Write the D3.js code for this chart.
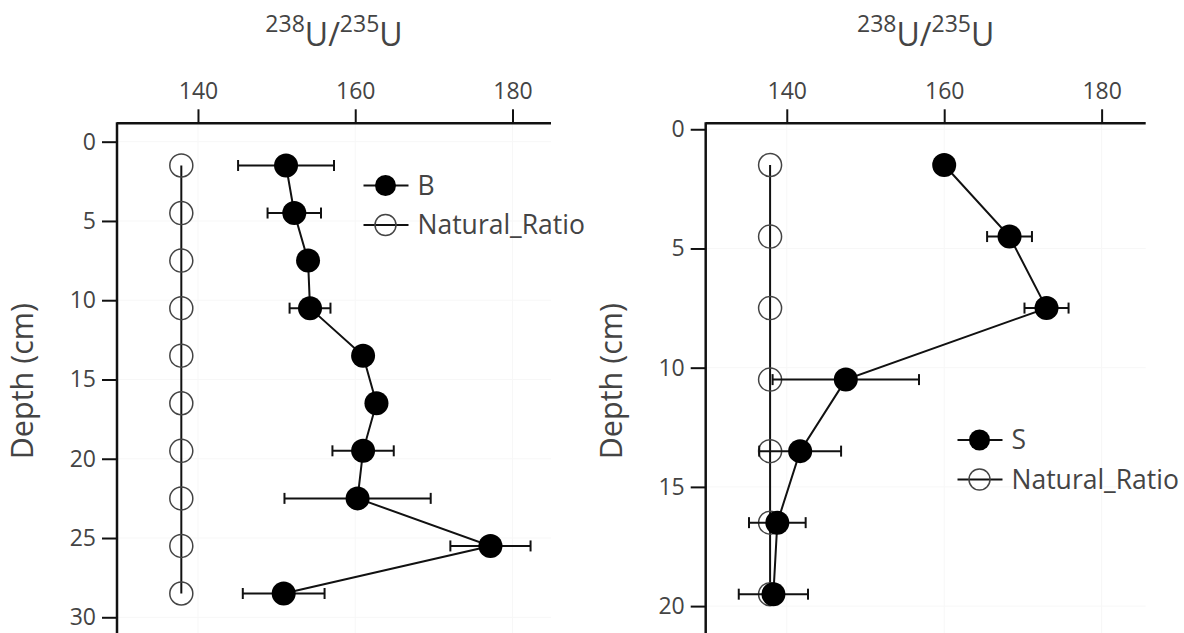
<!DOCTYPE html>
<html>
<head>
<meta charset="utf-8">
<script src="https://cdn.jsdelivr.net/npm/d3@7"></script>
<style>
  body { margin: 0; background: #fff; }
  text { font-family: "Open Sans", sans-serif; fill: #444; }
</style>
</head>
<body>
<div id="chart"></div>
<script>
// data
var depthB = [1.5, 4.5, 7.5, 10.5, 13.5, 16.5, 19.5, 22.5, 25.5, 28.5];
var ratioB = [151.2, 152.25, 154.0, 154.25, 161.0, 162.7, 161.0, 160.3, 177.2, 150.9];
var errB = [6.1, 3.4, 0.8, 2.6, 0.9, 0.9, 3.9, 9.3, 5.1, 5.2];

var depthS = [1.5, 4.5, 7.5, 10.5, 13.5, 16.5, 19.5];
var ratioS = [160.0, 168.3, 173.0, 147.5, 141.7, 138.8, 138.3];
var errS = [0.8, 2.85, 2.8, 9.3, 5.2, 3.6, 4.4];

var naturalRatio = 137.88;
var xTicks = [140, 160, 180];
var yTicksB = [0, 5, 10, 15, 20, 25, 30];
var yTicksS = [0, 5, 10, 15, 20];

var W = 1184, H = 633;
var svg = d3.select("#chart").append("svg")
    .attr("width", W)
    .attr("height", H);

// one panel = one depth profile
function drawPanel(opt) {
    var x = d3.scaleLinear().domain(opt.xDomain).range([opt.left, opt.right]);
    var y = d3.scaleLinear().domain(opt.yDomain).range([opt.top, opt.bottom]);
    var g = svg.append("g");

    var pts = opt.depth.map(function (d, i) {
        return { depth: d, ratio: opt.ratio[i], err: opt.err[i] };
    });

    // very faint grid
    g.append("g").selectAll("line.gx").data(opt.xTicks).enter().append("line")
        .attr("x1", d => x(d)).attr("x2", d => x(d))
        .attr("y1", opt.top).attr("y2", opt.bottom)
        .attr("stroke", "#f7f7f7").attr("stroke-width", 1);
    g.append("g").selectAll("line.gy").data(opt.yTicks).enter().append("line")
        .attr("x1", opt.left).attr("x2", opt.right)
        .attr("y1", d => y(d)).attr("y2", d => y(d))
        .attr("stroke", "#f7f7f7").attr("stroke-width", 1);

    // natural ratio reference
    var line = d3.line().x(d => x(d.ratio)).y(d => y(d.depth));
    var nat = opt.depth.map(d => ({ depth: d, ratio: naturalRatio }));
    g.append("path").datum(nat)
        .attr("d", line).attr("fill", "none")
        .attr("stroke", "#111").attr("stroke-width", 2);
    g.append("g").selectAll("circle").data(nat).enter().append("circle")
        .attr("cx", d => x(d.ratio)).attr("cy", d => y(d.depth))
        .attr("r", 11.5).attr("fill", "none")
        .attr("stroke", "#444").attr("stroke-width", 1.5);

    // error bars
    var eb = g.append("g").attr("stroke", "#111").attr("stroke-width", 2);
    pts.forEach(function (d) {
        var cy = y(d.depth), x0 = x(d.ratio - d.err), x1 = x(d.ratio + d.err);
        eb.append("line").attr("x1", x0).attr("x2", x1).attr("y1", cy).attr("y2", cy);
        eb.append("line").attr("x1", x0).attr("x2", x0).attr("y1", cy - 5.5).attr("y2", cy + 5.5);
        eb.append("line").attr("x1", x1).attr("x2", x1).attr("y1", cy - 5.5).attr("y2", cy + 5.5);
    });

    // sample profile
    g.append("path").datum(pts)
        .attr("d", line).attr("fill", "none")
        .attr("stroke", "#111").attr("stroke-width", 2);
    g.append("g").selectAll("circle").data(pts).enter().append("circle")
        .attr("cx", d => x(d.ratio)).attr("cy", d => y(d.depth))
        .attr("r", 12).attr("fill", "#000");

    // axes
    var ax = g.append("g")
        .attr("transform", "translate(0," + opt.top + ")")
        .call(d3.axisTop(x).tickValues(opt.xTicks).tickSize(14).tickSizeOuter(0).tickPadding(10));
    var ay = g.append("g")
        .attr("transform", "translate(" + opt.left + ",0)")
        .call(d3.axisLeft(y).tickValues(opt.yTicks).tickSize(15).tickSizeOuter(0).tickPadding(6));
    [ax, ay].forEach(function (a) {
        a.selectAll("path, line").attr("stroke", "#111").attr("stroke-width", 2);
        a.selectAll("text").style("font-size", "23px").attr("fill", "#444");
        a.select(".domain").attr("stroke-width", 2.5);
    });
    ay.select(".domain").attr("d", "M0," + (opt.top - 1) + "V" + opt.bottom);
    ax.select(".domain").attr("d", "M" + opt.left + ",0H" + opt.right);

    // axis titles
    var t = g.append("text")
        .attr("x", (opt.left + opt.right) / 2).attr("y", 46)
        .attr("text-anchor", "middle").style("font-size", "32px").attr("fill", "#333");
    t.append("tspan").text("238").style("font-size", "23px").attr("dy", "-14");
    t.append("tspan").text("U/").attr("dy", "14");
    t.append("tspan").text("235").style("font-size", "23px").attr("dy", "-14");
    t.append("tspan").text("U").attr("dy", "14");

    g.append("text")
        .attr("transform", "translate(" + (opt.left - 84) + "," + ((opt.top + opt.bottom) / 2) + ") rotate(-90)")
        .attr("text-anchor", "middle")
        .style("font-size", "30.5px").attr("fill", "#333")
        .text("Depth (cm)");

    // legend
    var lg = g.append("g").attr("transform", "translate(" + opt.legX + "," + opt.legY + ")");
    [{ name: opt.name, filled: true }, { name: "Natural_Ratio", filled: false }].forEach(function (d, i) {
        var row = lg.append("g").attr("transform", "translate(0," + (i * 39.5) + ")");
        row.append("line").attr("x1", -22).attr("x2", 23).attr("y1", 0).attr("y2", 0)
            .attr("stroke", "#111").attr("stroke-width", 2);
        row.append("circle").attr("r", 10.5)
            .attr("fill", d.filled ? "#000" : "none")
            .attr("stroke", d.filled ? "none" : "#444").attr("stroke-width", 1.5);
        row.append("text").attr("x", 32).attr("y", 9)
            .style("font-size", "26.5px").attr("fill", "#444").text(d.name);
    });
}

drawPanel({
    name: "B", depth: depthB, ratio: ratioB, err: errB,
    xDomain: [129.7, 184.9], yDomain: [-1.16, 31.37],
    xTicks: xTicks, yTicks: yTicksB,
    left: 117, right: 551, top: 123.3, bottom: 639,
    legX: 385.5, legY: 185.5
});

drawPanel({
    name: "S", depth: depthS, ratio: ratioS, err: errS,
    xDomain: [129.7, 185.6], yDomain: [-0.25, 21.38],
    xTicks: xTicks, yTicks: yTicksS,
    left: 705.7, right: 1145.7, top: 123.3, bottom: 639,
    legX: 979.5, legY: 440
});
</script>
</body>
</html>
